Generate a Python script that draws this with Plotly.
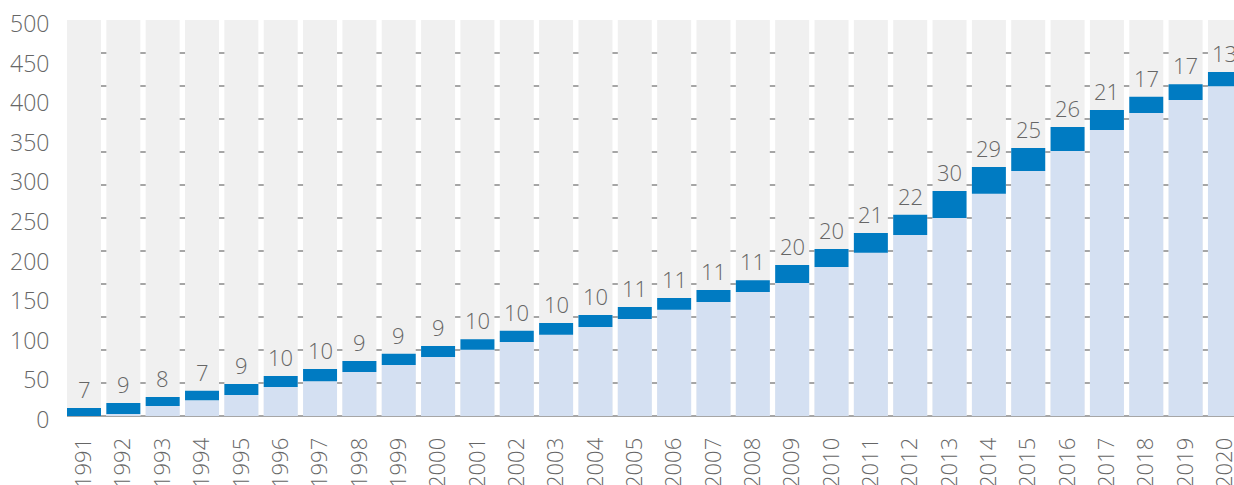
import plotly.graph_objects as go

years = [str(y) for y in range(1991, 2021)]
# yearly additions (labels above each bar)
increments = [7, 9, 8, 7, 9, 10, 10, 9, 9, 9, 10, 10, 10, 10, 11, 11, 11, 11,
              20, 20, 21, 22, 30, 29, 25, 26, 21, 17, 17, 13]
# top of the dark segment
totals = [10, 16.5, 24, 32, 40.5, 50.5, 59.5, 69.5, 78.5, 88.5, 97, 107.5, 117.5,
          127.5, 137.5, 149, 159, 171.5, 190.5, 211, 231, 254, 284, 314.5, 338.5,
          365, 386.5, 403, 419, 434.5]
# top of the light segment
base = [0, 2.5, 12.5, 20, 26.5, 36.5, 44, 55.5, 64.5, 74.5, 83.5, 93.5, 102.5,
        112.5, 122.5, 134, 144, 156.5, 168, 188, 206, 228.5, 250, 280.5, 309.5,
        334.5, 361, 382.5, 399, 416.5]
y_max = 500
background = [y_max] * len(years)
y_ticks = list(range(0, 501, 50))

GREY_BG = "#f0f0f0"
LIGHT = "#d4e0f2"
DARK = "#007bc2"
TEXT = "#666666"
FONT = "Open Sans"

dark_heights = [t - b for t, b in zip(totals, base)]

fig = go.Figure()
fig.add_trace(go.Bar(x=years, y=background, marker=dict(color=GREY_BG, line=dict(width=0)),
                     hoverinfo="skip", showlegend=False))
fig.add_trace(go.Bar(x=years, y=base, marker=dict(color=LIGHT, line=dict(width=0)),
                     hoverinfo="skip", showlegend=False))
fig.add_trace(go.Bar(x=years, y=dark_heights, base=base,
                     marker=dict(color=DARK, line=dict(width=0)),
                     hoverinfo="skip", showlegend=False))
# invisible helper trace so the label axis is drawn
fig.add_trace(go.Scatter(x=[years[0]], y=[0], yaxis="y2", mode="markers",
                         marker=dict(opacity=0), hoverinfo="skip", showlegend=False))

for i, (tot, inc) in enumerate(zip(totals, increments)):
    fig.add_annotation(x=i, y=tot, xref="x", yref="y", text=str(inc), showarrow=False,
                       yanchor="bottom", yshift=2,
                       font=dict(family=FONT, size=22, color=TEXT, weight=300))

fig.update_layout(
    width=1234, height=485,
    margin=dict(l=67, r=0, t=20, b=69, autoexpand=False),
    paper_bgcolor="white", plot_bgcolor="white",
    barmode="overlay", bargap=0.136,
    font=dict(family=FONT, color=TEXT),
    xaxis=dict(type="category", range=[-0.432, 29.23], showgrid=False, zeroline=False,
               showline=False, tickangle=-90, ticks="outside", ticklen=12,
               tickcolor="rgba(0,0,0,0)",
               tickfont=dict(family=FONT, size=22, color=TEXT, weight=300),
               automargin=False, fixedrange=True),
    yaxis=dict(range=[0, y_max], tickmode="linear", tick0=0, dtick=y_max / 12,
               showticklabels=False, showgrid=True, gridcolor="#a6a6a6", gridwidth=1.5,
               zeroline=True, zerolinecolor="#a6a6a6", zerolinewidth=1.5,
               showline=False, ticks="", automargin=False, fixedrange=True),
    yaxis2=dict(overlaying="y", side="left", range=[0, y_max], tickmode="array",
                tickvals=y_ticks, ticktext=[str(v) for v in y_ticks],
                showgrid=False, zeroline=False, showline=False, ticks="outside",
                ticklen=12, tickcolor="rgba(0,0,0,0)", ticklabelshift=4,
                tickfont=dict(family=FONT, size=23, color=TEXT, weight=300),
                automargin=False, fixedrange=True),
)

fig.write_html("out.html")
